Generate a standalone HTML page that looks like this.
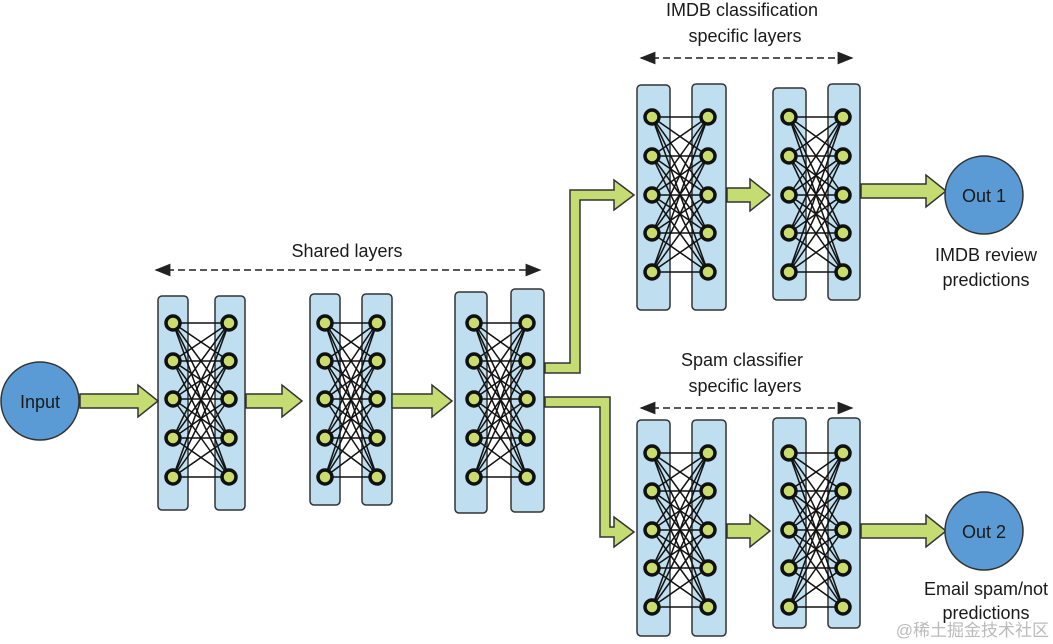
<!DOCTYPE html>
<html><head><meta charset="utf-8"><style>
html,body{margin:0;padding:0;background:#fff;}
svg{display:block;}
text{font-family:"Liberation Sans",sans-serif;fill:#1a1a1a;}
</style></head><body>
<svg id="s" width="1053" height="644" viewBox="0 0 1053 644" xmlns="http://www.w3.org/2000/svg">
<defs>
<marker id="ah" markerWidth="10" markerHeight="8" refX="9" refY="4" orient="auto"><path d="M0,0 L10,4 L0,8 Z" fill="#222"/></marker>
<marker id="at" markerWidth="10" markerHeight="8" refX="1" refY="4" orient="auto"><path d="M10,0 L0,4 L10,8 Z" fill="#222"/></marker>
</defs>
<g id="g"></g>
<text x="347" y="257" font-size="18" text-anchor="middle">Shared layers</text>
<line x1="156" y1="270" x2="540" y2="270" stroke="#222" stroke-width="1.6" stroke-dasharray="7,4" marker-start="url(#at)" marker-end="url(#ah)"/>
<text x="742" y="16" font-size="18" text-anchor="middle">IMDB classification</text>
<text x="745" y="42" font-size="18" text-anchor="middle">specific layers</text>
<line x1="641" y1="58" x2="852" y2="58" stroke="#222" stroke-width="1.6" stroke-dasharray="7,4" marker-start="url(#at)" marker-end="url(#ah)"/>
<text x="742" y="366" font-size="18" text-anchor="middle">Spam classifier</text>
<text x="745" y="392" font-size="18" text-anchor="middle">specific layers</text>
<line x1="641" y1="408" x2="852" y2="408" stroke="#222" stroke-width="1.6" stroke-dasharray="7,4" marker-start="url(#at)" marker-end="url(#ah)"/>
<circle cx="40" cy="401" r="39" fill="#5b9bd5" stroke="#333" stroke-width="1.5"/>
<text x="40" y="408" font-size="18" text-anchor="middle">Input</text>
<circle cx="984" cy="195" r="39" fill="#5b9bd5" stroke="#333" stroke-width="1.5"/>
<text x="984" y="202" font-size="18" text-anchor="middle">Out 1</text>
<circle cx="984" cy="531" r="39" fill="#5b9bd5" stroke="#333" stroke-width="1.5"/>
<text x="984" y="538" font-size="18" text-anchor="middle">Out 2</text>
<text x="986" y="261" font-size="18" text-anchor="middle">IMDB review</text>
<text x="986" y="286" font-size="18" text-anchor="middle">predictions</text>
<text x="986" y="595" font-size="18" text-anchor="middle">Email spam/not</text>
<text x="986" y="619" font-size="18" text-anchor="middle">predictions</text>
<text x="1049" y="636" font-size="17" text-anchor="end" style="fill:#bbb;font-family:'Liberation Sans','Noto Sans CJK SC',sans-serif">@稀土掘金技术社区</text>
</svg>
<script>
var g=document.getElementById('g'),h='';
function rect(x1,y1,x2,y2){h+='<rect x="'+x1+'" y="'+y1+'" width="'+(x2-x1)+'" height="'+(y2-y1)+'" rx="4" fill="#bfdff0" stroke="#333" stroke-width="1.5"/>';}
function layer(L,R,lx,rx,ys){
 rect(L[0],L[1],L[2],L[3]);rect(R[0],R[1],R[2],R[3]);
 for(var i=0;i<5;i++)for(var j=0;j<5;j++)h+='<line x1="'+lx+'" y1="'+ys[i]+'" x2="'+rx+'" y2="'+ys[j]+'" stroke="#111" stroke-width="1.5"/>';
 for(var i=0;i<5;i++){h+='<circle cx="'+lx+'" cy="'+ys[i]+'" r="7" fill="#c9dc6c" stroke="#111" stroke-width="3.5"/>';h+='<circle cx="'+rx+'" cy="'+ys[i]+'" r="7" fill="#c9dc6c" stroke="#111" stroke-width="3.5"/>';}
}
var Y1=[323,361,399,438,477];
layer([158,296,188,510],[215,296,245,510],173,229,Y1);
layer([310,294,340,505],[362,294,392,505],325,377,Y1);
layer([455,292,487,513],[511,289,544,512],474,527,Y1);
var Y2=[117,156,195,233,272];
layer([637,85,670,310],[692,84,726,310],652,708,Y2);
layer([773,88,806,300],[828,84,860,300],789,843,Y2);
var Y3=[453,491,530,568,607];
layer([637,420,670,636],[692,420,726,636],652,708,Y3);
layer([773,418,806,628],[828,418,860,628],789,843,Y3);
function arr(x1,x2,y){var s=7,hh=16,hl=20;
 h+='<path d="M'+x1+','+(y-s)+' L'+(x2-hl)+','+(y-s)+' L'+(x2-hl)+','+(y-hh)+' L'+x2+','+y+' L'+(x2-hl)+','+(y+hh)+' L'+(x2-hl)+','+(y+s)+' L'+x1+','+(y+s)+' Z" fill="#c5dc72" stroke="#333" stroke-width="1.5"/>';}
arr(80,158,401);arr(246,302,401);arr(392,452,401);
arr(727,770,195);arr(861,946,191);
arr(727,770,531);arr(861,946,531);
h+='<path d="M545,363 L570,363 L570,190 L614,190 L614,180 L634,195 L614,210 L614,200 L580,200 L580,373 L545,373 Z" fill="#c5dc72" stroke="#333" stroke-width="1.5"/>';
h+='<path d="M545,397 L610,397 L610,527 L614,527 L614,517 L634,532 L614,547 L614,537 L600,537 L600,407 L545,407 Z" fill="#c5dc72" stroke="#333" stroke-width="1.5"/>';
g.innerHTML=h;
</script>
</body></html>
